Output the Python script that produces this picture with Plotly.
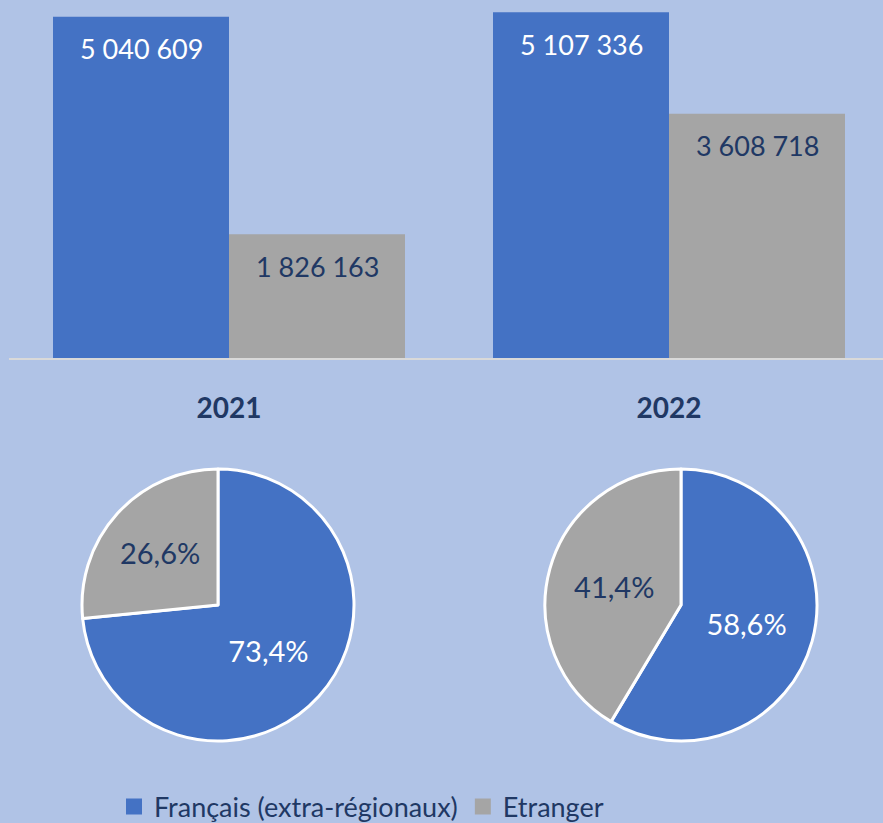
import plotly.graph_objects as go

years = ["2021", "2022"]
series_names = ["Français (extra-régionaux)", "Etranger"]
francais = [5040609, 5107336]
etranger = [1826163, 3608718]

BG = "#B0C3E6"
BLUE = "#4472C4"
GRAY = "#A5A5A5"
NAVY = "#203864"
FONT = "Lato, Carlito, Calibri, sans-serif"

W, H = 883, 823

def fmt(v):
    return f"{v:,}".replace(",", " ")

fig = go.Figure()
xs = list(range(len(years)))
fig.add_trace(go.Bar(x=xs, y=francais, name=series_names[0], marker=dict(color=BLUE, line=dict(width=0)),
                     width=0.4, offset=-0.4, hoverinfo="skip", showlegend=False))
fig.add_trace(go.Bar(x=xs, y=etranger, name=series_names[1], marker=dict(color=GRAY, line=dict(width=0)),
                     width=0.4, offset=0.0, hoverinfo="skip", showlegend=False))

# legend entries (square swatches)
for name, col in zip(series_names, [BLUE, GRAY]):
    fig.add_trace(go.Scatter(x=[None], y=[None], mode="markers", name=name,
                             marker=dict(symbol="square", size=16, color=col), hoverinfo="skip"))

annotations = []
for i, v in enumerate(francais):
    annotations.append(dict(x=i - 0.2, y=v, xref="x", yref="y", text=fmt(v), showarrow=False,
                            yshift=-32, yanchor="middle", font=dict(family=FONT, size=27, color="white")))
for i, v in enumerate(etranger):
    annotations.append(dict(x=i + 0.2, y=v, xref="x", yref="y", text=fmt(v), showarrow=False,
                            yshift=-32, yanchor="middle", font=dict(family=FONT, size=27, color=NAVY)))

pie_domains_x = [[82 / W, 354 / W], [545 / W, 817 / W]]
pie_domain_y = [(H - 741) / H, (H - 469) / H]
for i, y in enumerate(years):
    fig.add_trace(go.Pie(values=[francais[i], etranger[i]], labels=series_names,
                         sort=False, direction="clockwise", rotation=0,
                         marker=dict(colors=[BLUE, GRAY], line=dict(color="white", width=3)),
                         texttemplate="%{percent:.1%}", textposition="inside",
                         insidetextfont=dict(family=FONT, size=29, color=["white", NAVY]),
                         domain=dict(x=pie_domains_x[i], y=pie_domain_y),
                         showlegend=False, hoverinfo="skip"))

ymax = 358 * 14770
fig.update_layout(
    width=W, height=H,
    margin=dict(l=0, r=0, t=0, b=0, autoexpand=False),
    paper_bgcolor=BG, plot_bgcolor=BG,
    separators=", ",
    barmode="group",
    showlegend=True,
    legend=dict(orientation="h", x=114 / W, xanchor="left", y=(H - 807) / H, yanchor="middle",
                font=dict(family=FONT, size=27, color=NAVY), bgcolor="rgba(0,0,0,0)",
                traceorder="normal", itemsizing="trace"),
    xaxis=dict(domain=[9 / W, 1], range=[-0.5, -0.5 + 874 / 440], showgrid=False, zeroline=False,
               showline=True, linecolor="#D9D9D9", linewidth=2,
               tickmode="array", tickvals=xs, ticktext=[f"<b>{y}</b>" for y in years],
               ticks="", ticklabelstandoff=24,
               tickfont=dict(family=FONT, size=28, color=NAVY)),
    yaxis=dict(domain=[(H - 358) / H, 1], range=[0, ymax], showgrid=False, zeroline=False,
               showticklabels=False, showline=False),
    annotations=annotations,
)

fig.write_html("out.html", config={"displayModeBar": False},
               post_script="document.body.style.margin='0';document.body.style.overflow='hidden';")
